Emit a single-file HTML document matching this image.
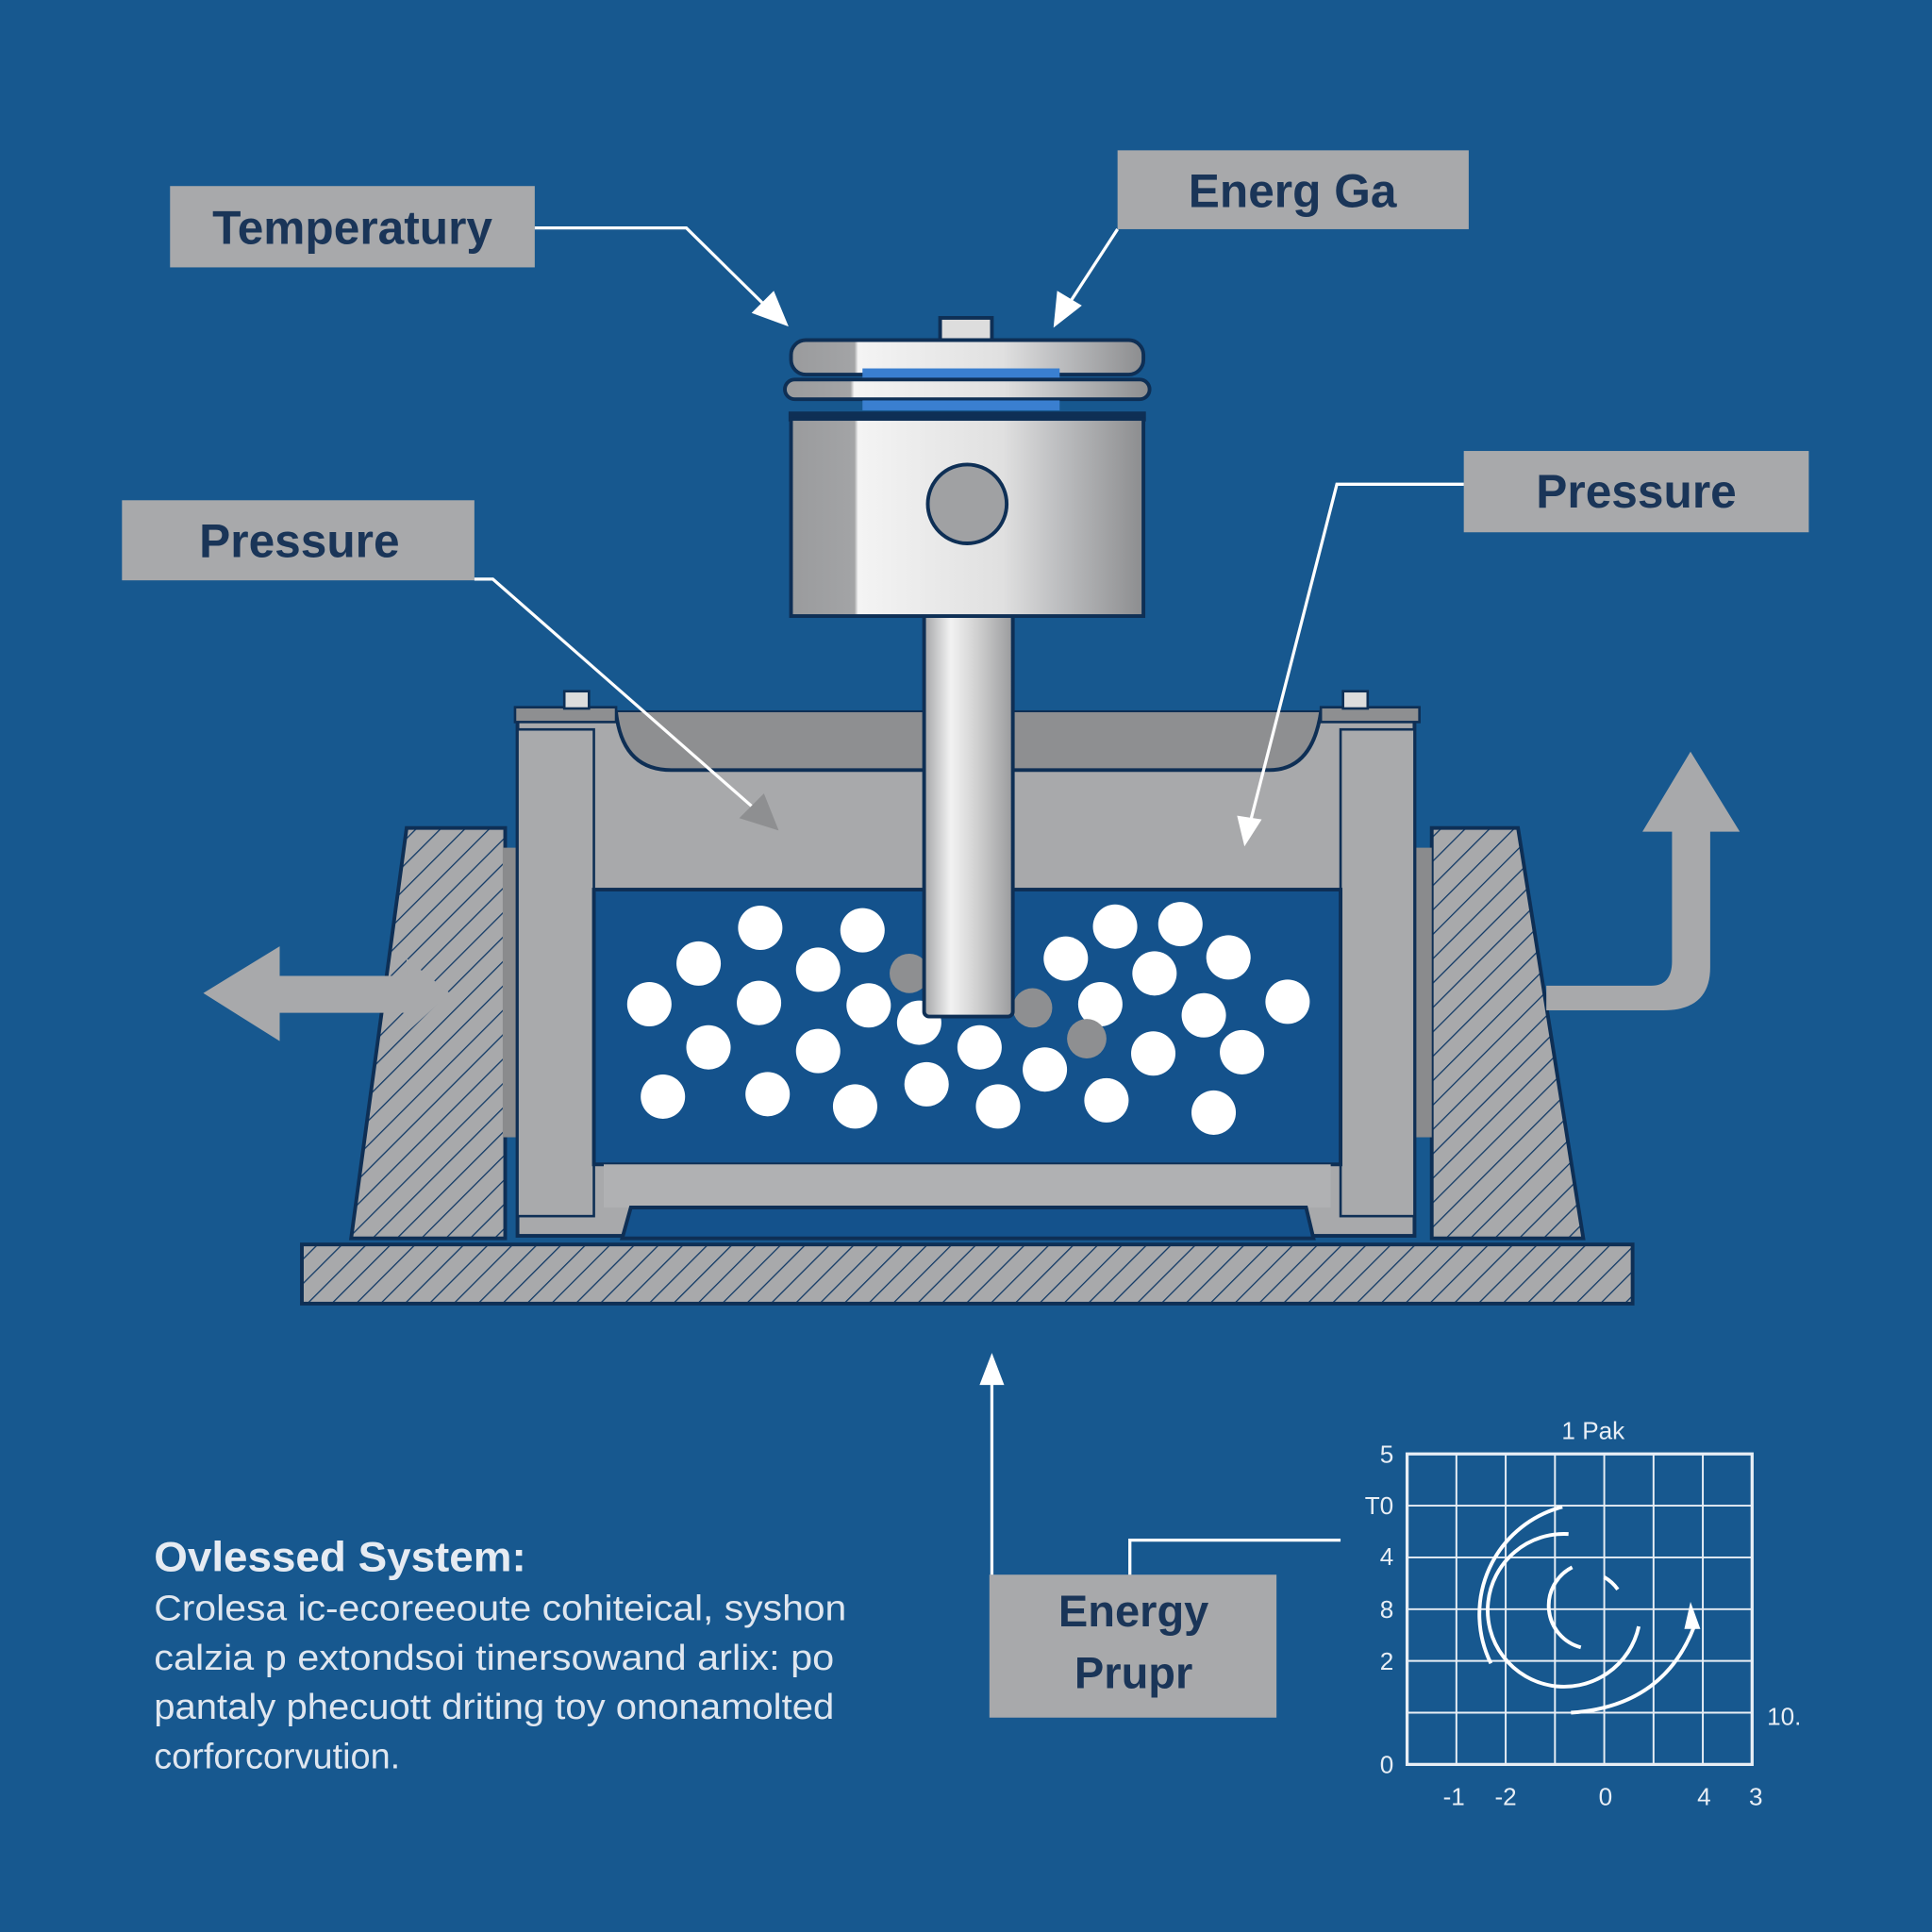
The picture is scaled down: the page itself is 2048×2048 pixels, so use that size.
<!DOCTYPE html>
<html><head><meta charset="utf-8"><style>
html,body{margin:0;padding:0;background:#17588f;}
svg{display:block}
text{font-family:"Liberation Sans",sans-serif;}
</style></head><body>
<svg width="2048" height="2048" viewBox="0 0 1568 1568" xmlns="http://www.w3.org/2000/svg">
<defs>
<pattern id="h" width="14" height="14" patternUnits="userSpaceOnUse" patternTransform="rotate(45)">
<rect width="14" height="14" fill="#a8a9ab"/><line x1="0" y1="0" x2="0" y2="14" stroke="#123a66" stroke-width="2"/>
</pattern>
<linearGradient id="pg" x1="0" x2="1">
<stop offset="0" stop-color="#9a9b9d"/><stop offset="0.18" stop-color="#a3a4a6"/><stop offset="0.19" stop-color="#f4f4f4"/><stop offset="0.6" stop-color="#e0e0e0"/><stop offset="0.75" stop-color="#bfc0c2"/><stop offset="1" stop-color="#8c8d8f"/>
</linearGradient>
<linearGradient id="rg" x1="0" x2="1">
<stop offset="0" stop-color="#a4a5a7"/><stop offset="0.3" stop-color="#f2f2f2"/><stop offset="0.6" stop-color="#d0d0d0"/><stop offset="1" stop-color="#9a9b9d"/>
</linearGradient>
</defs>
<rect width="1568" height="1568" fill="#17588f"/>

<!-- base -->
<rect x="245" y="1010" width="1080" height="48" fill="url(#h)" stroke="#0e2f55" stroke-width="3"/>
<!-- supports -->
<polygon points="285,1005 330,672 410,672 410,1005" fill="url(#h)" stroke="#0e2f55" stroke-width="3"/>
<polygon points="1162,672 1232,672 1285,1005 1162,1005" fill="url(#h)" stroke="#0e2f55" stroke-width="3"/>
<rect x="408" y="688" width="14" height="235" fill="#8a8b8d"/>
<rect x="1148" y="688" width="14" height="235" fill="#8a8b8d"/>

<!-- chamber -->
<rect x="420" y="578" width="728" height="425" fill="#a8a9ab" stroke="#0e2f55" stroke-width="3"/>
<path d="M420,578 L500,578 Q505,625 545,625 L1030,625 Q1065,625 1072,578 L1148,578" fill="#8e8f91" stroke="#0e2f55" stroke-width="3"/>
<rect x="420" y="592" width="62" height="395" fill="#a9aaac" stroke="#0e2f55" stroke-width="2"/>
<rect x="1088" y="592" width="60" height="395" fill="#a9aaac" stroke="#0e2f55" stroke-width="2"/>
<rect x="482" y="722" width="606" height="223" fill="#14528c" stroke="#0e2f55" stroke-width="3"/>
<rect x="490" y="945" width="590" height="35" fill="#b0b1b3"/>
<path d="M505,1005 L512,980 L1060,980 L1066,1005 Z" fill="#14528c" stroke="#0e2f55" stroke-width="3"/>
<rect x="418" y="574" width="82" height="12" fill="#8e8f91" stroke="#0e2f55" stroke-width="2"/>
<rect x="1072" y="574" width="80" height="12" fill="#8e8f91" stroke="#0e2f55" stroke-width="2"/>
<rect x="458" y="561" width="20" height="14" fill="#ddd" stroke="#0e2f55" stroke-width="2"/>
<rect x="1090" y="561" width="20" height="14" fill="#ddd" stroke="#0e2f55" stroke-width="2"/>

<!-- balls -->
<g fill="#fff">
<circle cx="617" cy="753" r="18"/><circle cx="700" cy="755" r="18"/><circle cx="905" cy="752" r="18"/><circle cx="958" cy="750" r="18"/>
<circle cx="567" cy="782" r="18"/><circle cx="664" cy="787" r="18"/><circle cx="865" cy="778" r="18"/><circle cx="937" cy="790" r="18"/><circle cx="997" cy="777" r="18"/>
<circle cx="527" cy="815" r="18"/><circle cx="616" cy="814" r="18"/><circle cx="705" cy="816" r="18"/><circle cx="746" cy="830" r="18"/><circle cx="893" cy="815" r="18"/><circle cx="977" cy="824" r="18"/><circle cx="1045" cy="813" r="18"/>
<circle cx="575" cy="850" r="18"/><circle cx="664" cy="853" r="18"/><circle cx="795" cy="850" r="18"/><circle cx="848" cy="868" r="18"/><circle cx="936" cy="855" r="18"/><circle cx="1008" cy="854" r="18"/>
<circle cx="538" cy="890" r="18"/><circle cx="623" cy="888" r="18"/><circle cx="694" cy="898" r="18"/><circle cx="752" cy="880" r="18"/><circle cx="810" cy="898" r="18"/><circle cx="898" cy="893" r="18"/><circle cx="985" cy="903" r="18"/>
</g>
<circle cx="738" cy="790" r="16" fill="#8e8f91"/><circle cx="838" cy="818" r="16" fill="#8e8f91"/><circle cx="882" cy="843" r="16" fill="#8e8f91"/>

<!-- rod -->
<rect x="750" y="495" width="72" height="330" rx="4" fill="url(#rg)" stroke="#0e2f55" stroke-width="3"/>
<!-- piston -->
<rect x="763" y="258" width="42" height="20" fill="#ddd" stroke="#0e2f55" stroke-width="3"/>
<rect x="642" y="276" width="286" height="28" rx="12" fill="url(#pg)" stroke="#0e2f55" stroke-width="3"/>
<rect x="700" y="299" width="160" height="8" fill="#3a7fd0"/>
<rect x="637" y="308" width="296" height="16" rx="8" fill="url(#pg)" stroke="#0e2f55" stroke-width="3"/>
<rect x="700" y="325" width="160" height="8" fill="#3a7fd0"/>
<rect x="640" y="334" width="290" height="8" fill="#0e2f55"/>
<rect x="642" y="340" width="286" height="160" fill="url(#pg)" stroke="#0e2f55" stroke-width="3"/>
<circle cx="785" cy="409" r="32" fill="#a0a1a3" stroke="#0e2f55" stroke-width="3"/>

<!-- labels -->
<g fill="#a8a9ab">
<rect x="138" y="151" width="296" height="66"/>
<rect x="907" y="122" width="285" height="64"/>
<rect x="99" y="406" width="286" height="65"/>
<rect x="1188" y="366" width="280" height="66"/>
<rect x="803" y="1278" width="233" height="116"/>
</g>
<g fill="#1a3558" font-weight="bold" font-size="38" text-anchor="middle">
<text x="286" y="198">Temperatury</text>
<text x="1049" y="168">Energ Ga</text>
<text x="243" y="452">Pressure</text>
<text x="1328" y="412">Pressure</text>
<text x="920" y="1320" font-size="36">Energy</text>
<text x="920" y="1370" font-size="36">Prupr</text>
</g>

<!-- connectors -->
<g stroke="#fff" stroke-width="2.5" fill="none">
<polyline points="434,185 557,185 625,252"/>
<line x1="907" y1="186" x2="864" y2="252"/>
<polyline points="385,470 400,470 612,656"/>
<polyline points="1188,393 1085,393 1014,670"/>
<line x1="805" y1="1278" x2="805" y2="1120"/>
<polyline points="917,1278 917,1250 1088,1250"/>
</g>
<g fill="#fff">
<polygon points="640,265 610,254 628,236"/>
<polygon points="855,266 858,236 878,248"/>
<polygon points="805,1098 795,1124 815,1124"/>
<polygon points="1010,687 1004,662 1024,665"/>
</g>
<polygon points="632,674 600,664 620,644" fill="#8e8f91"/>

<!-- side arrows -->
<polygon points="165,806 227,768 227,792 330,792 330,778 365,806 330,838 330,822 227,822 227,845" fill="#a8a9ab"/>
<path d="M1255,800 L1340,800 Q1357,800 1357,780 L1357,675 L1333,675 L1372,610 L1412,675 L1388,675 L1388,785 Q1388,820 1350,820 L1255,820 Z" fill="#a8a9ab"/>

<!-- chart -->
<g stroke="#e8eef5" stroke-width="1.5" fill="none">
<rect x="1142" y="1180" width="280" height="252" stroke-width="2.5"/>
<line x1="1182" y1="1180" x2="1182" y2="1432"/><line x1="1222" y1="1180" x2="1222" y2="1432"/><line x1="1262" y1="1180" x2="1262" y2="1432"/><line x1="1302" y1="1180" x2="1302" y2="1432"/><line x1="1342" y1="1180" x2="1342" y2="1432"/><line x1="1382" y1="1180" x2="1382" y2="1432"/>
<line x1="1142" y1="1222" x2="1422" y2="1222"/><line x1="1142" y1="1264" x2="1422" y2="1264"/><line x1="1142" y1="1306" x2="1422" y2="1306"/><line x1="1142" y1="1348" x2="1422" y2="1348"/><line x1="1142" y1="1390" x2="1422" y2="1390"/>
</g>
<g stroke="#fff" stroke-width="3" fill="none">
<path d="M1268,1223 A90,90 0 0 0 1210,1350"/>
<path d="M1273,1245 A62,62 0 1 0 1330,1320"/>
<path d="M1276,1272 A35,35 0 0 0 1283,1337"/>
<path d="M1302,1280 A35,35 0 0 1 1313,1290"/>
<path d="M1275,1390 Q1350,1385 1375,1320"/>
</g>
<polygon points="1372,1300 1367,1322 1380,1322" fill="#fff"/>
<g fill="#e8eef5" font-size="20" text-anchor="end">
<text x="1131" y="1187">5</text><text x="1131" y="1229">T0</text><text x="1131" y="1270">4</text><text x="1131" y="1313">8</text><text x="1131" y="1355">2</text><text x="1131" y="1439">0</text>
</g>
<g fill="#e8eef5" font-size="20" text-anchor="middle">
<text x="1293" y="1168">1 Pak</text><text x="1448" y="1400">10.</text>
<text x="1180" y="1465">-1</text><text x="1222" y="1465">-2</text><text x="1303" y="1465">0</text><text x="1383" y="1465">4</text><text x="1425" y="1465">3</text>
</g>

<!-- text block -->
<text x="125" y="1275" fill="#e6ebf2" font-size="34" font-weight="bold" textLength="302" lengthAdjust="spacingAndGlyphs">Ovlessed System:</text>
<g fill="#dfe6ef" font-size="29">
<text x="125" y="1315" textLength="562" lengthAdjust="spacingAndGlyphs">Crolesa ic-ecoreeoute cohiteical, syshon</text>
<text x="125" y="1355" textLength="552" lengthAdjust="spacingAndGlyphs">calzia p extondsoi tinersowand arlix: po</text>
<text x="125" y="1395" textLength="552" lengthAdjust="spacingAndGlyphs">pantaly phecuott driting toy ononamolted</text>
<text x="125" y="1435">corforcorvution.</text>
</g>
</svg>
</body></html>
